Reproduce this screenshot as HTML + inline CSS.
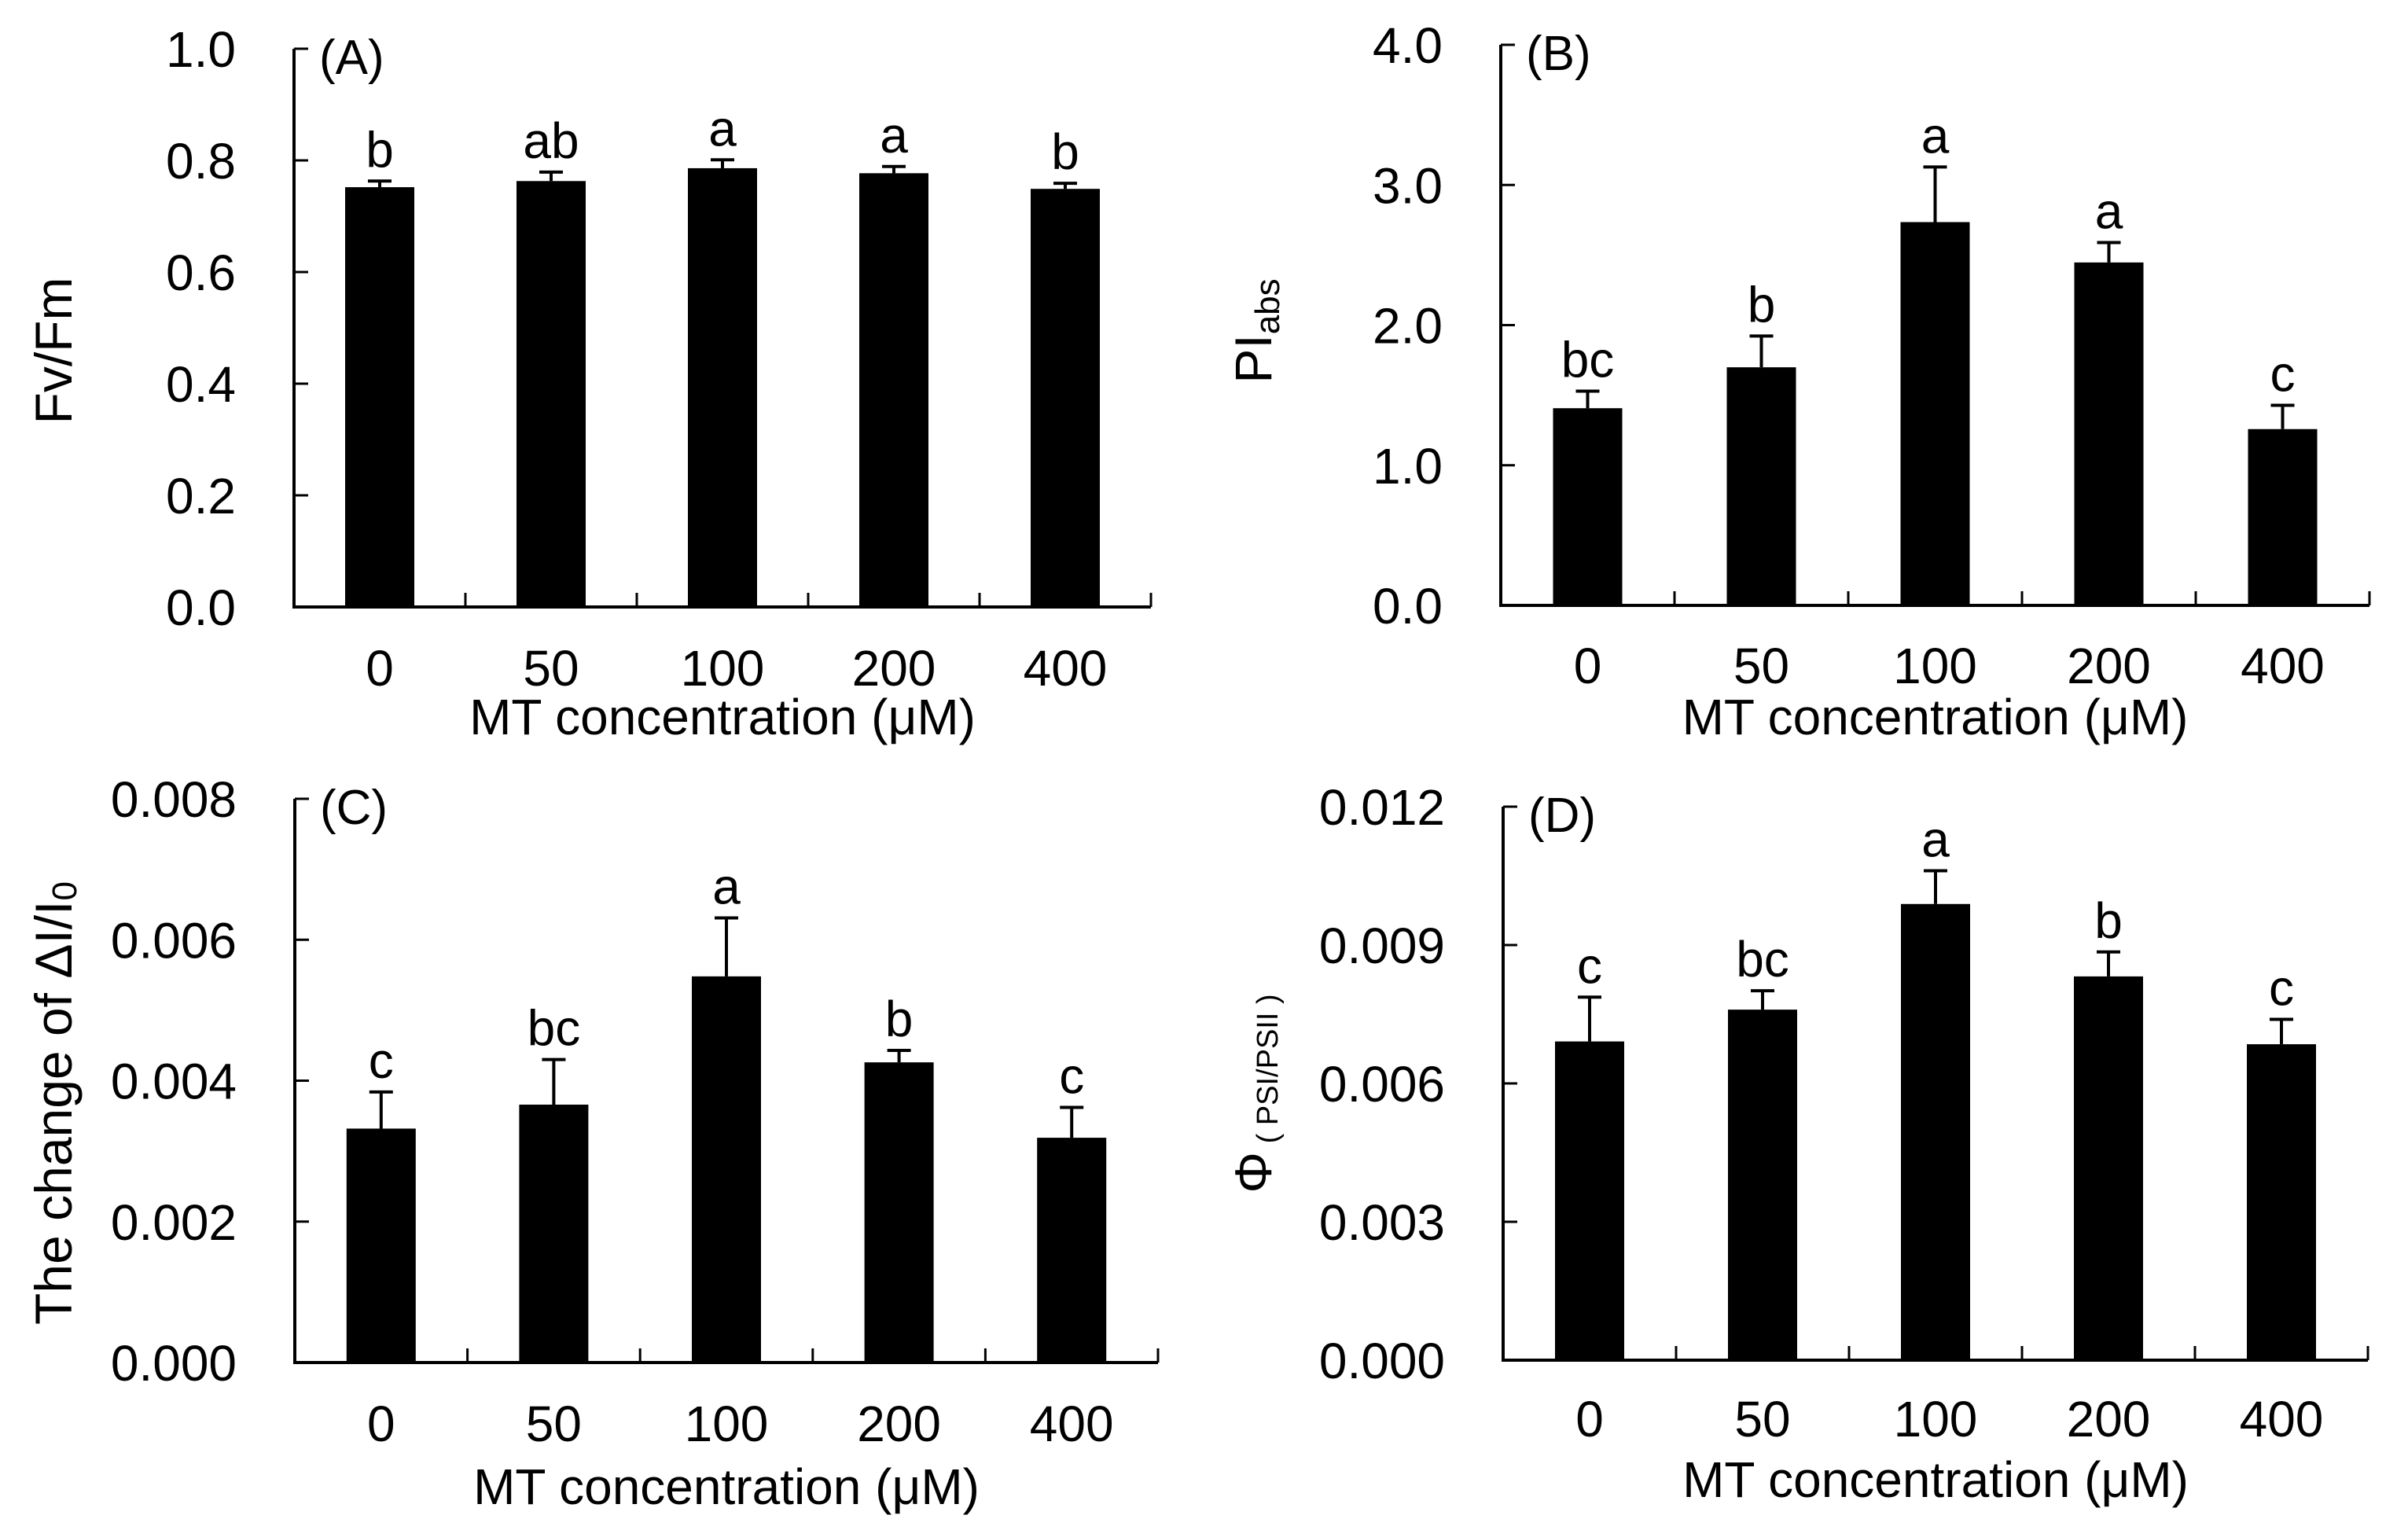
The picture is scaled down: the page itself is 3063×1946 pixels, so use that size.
<!DOCTYPE html>
<html><head><meta charset="utf-8"><style>
html,body{margin:0;padding:0;background:#fff;}
svg{display:block;font-family:"Liberation Sans",Arial,sans-serif;}
</style></head><body>
<svg id="chart" width="3063" height="1946" viewBox="0 0 3063 1946" xmlns="http://www.w3.org/2000/svg"></svg>
<script>
const categories = ["0","50","100","200","400"];
const xAxisTitle = "MT concentration (μM)";
const valuesA = [0.752, 0.763, 0.786, 0.777, 0.749];
const errorsA = [0.011, 0.016, 0.015, 0.012, 0.010];
const lettersA = ["b","ab","a","a","b"];
const ticksA = [0, 0.2, 0.4, 0.6, 0.8, 1.0];
const tickLabelsA = ["0.0","0.2","0.4","0.6","0.8","1.0"];
const valuesB = [1.407, 1.699, 2.735, 2.447, 1.258];
const errorsB = [0.122, 0.223, 0.393, 0.142, 0.170];
const lettersB = ["bc","b","a","a","c"];
const ticksB = [0, 1, 2, 3, 4];
const tickLabelsB = ["0.0","1.0","2.0","3.0","4.0"];
const valuesC = [0.00332, 0.00366, 0.00548, 0.00426, 0.00319];
const errorsC = [0.00052, 0.00064, 0.00083, 0.00017, 0.00043];
const lettersC = ["c","bc","a","b","c"];
const ticksC = [0, 0.002, 0.004, 0.006, 0.008];
const tickLabelsC = ["0.000","0.002","0.004","0.006","0.008"];
const valuesD = [0.00691, 0.00760, 0.00989, 0.00832, 0.00685];
const errorsD = [0.00096, 0.00041, 0.00072, 0.00053, 0.00054];
const lettersD = ["c","bc","a","b","c"];
const ticksD = [0, 0.003, 0.006, 0.009, 0.012];
const tickLabelsD = ["0.000","0.003","0.006","0.009","0.012"];

const svg = document.getElementById('chart');
const NS = "http://www.w3.org/2000/svg";
function mk(tag, attrs, parent){
  const e = document.createElementNS(NS, tag);
  for (const k in attrs) e.setAttribute(k, attrs[k]);
  (parent||svg).appendChild(e);
  return e;
}

function panel(p){
  const g = mk('g', {});
  
  
  const x0 = p.x0, x1 = p.x1, y0 = p.y0, yTop = p.yTop;
  const maxV = p.ticks[p.ticks.length-1];
  const yScale = v => y0 - (v / maxV) * (y0 - yTop);
  const bandW = (x1 - x0) / categories.length;
  const xCenter = i => x0 + bandW * (i + 0.5);
  const barW = 88;
  p.values.forEach((v, i) => {
    const cx = xCenter(i);
    const r = mk('rect', {x: cx - barW/2, y: yScale(v), width: barW, height: y0 - yScale(v), fill:'#000'}, g);
    
    
    const ye = yScale(v + p.errors[i]);
    const eb = mk('path', {d:`M${cx} ${yScale(v)} V${ye} M${cx-15} ${ye} H${cx+15}`, stroke:'#000', 'stroke-width':4, fill:'none'}, g);
    
    
    const lt = mk('text', {x: cx, y: ye - 18, 'font-size': 64, 'text-anchor':'middle', fill:'#000'}, g);
    lt.textContent = p.letters[i];
    
    
    const tl = mk('text', {x: cx, y: p.xLabelY, 'font-size': 64, 'text-anchor':'middle', fill:'#000'}, g);
    tl.textContent = categories[i];
    
    
  });
  const ax = mk('path', {d:`M${x0} ${yTop} V${y0} H${x1}`, stroke:'#000', 'stroke-width':4, fill:'none'}, g);
  
  
  for (let i = 1; i <= categories.length; i++){
    const xt = x0 + bandW * i;
    const t = mk('line', {x1: xt, x2: xt, y1: y0, y2: y0 - 18, stroke:'#000', 'stroke-width':3}, g);
    
    
  }
  p.ticks.forEach((tv, i) => {
    const yt = yScale(tv);
    if (i > 0){
      const t = mk('line', {x1: x0, x2: x0 + 18, y1: yt, y2: yt, stroke:'#000', 'stroke-width':3}, g);
      
      
    }
    const tl = mk('text', {x: x0 - 74, y: yt + 23, 'font-size': 64, 'text-anchor':'end', fill:'#000'}, g);
    tl.textContent = p.tickLabels[i];
    
    
  });
  const pl = mk('text', {x: x0 + 32, y: yTop + 32, 'font-size': 62, fill:'#000'}, g);
  pl.textContent = '(' + p.id.toUpperCase() + ')';
  
  
  const xt = mk('text', {x: (x0 + x1)/2, y: p.titleY, 'font-size': 64, 'text-anchor':'middle', fill:'#000'}, g);
  xt.textContent = xAxisTitle;
  
  
  const yt = mk('text', {x: 0, y: 0, 'font-size': 66, 'text-anchor':'middle', fill:'#000', transform:`translate(${p.yTitleX},${p.yTitleY}) rotate(-90)`}, g);
  yt.innerHTML = p.yTitle;
  
  
}

panel({id:'a', x0:374, x1:1464, y0:772, yTop:62, values:valuesA, errors:errorsA, letters:lettersA, ticks:ticksA, tickLabels:tickLabelsA, xLabelY:872, titleY:934, yTitleX:91, yTitleY:446, yTitle:'Fv/Fm'});
panel({id:'b', x0:1909, x1:3014, y0:770, yTop:57, values:valuesB, errors:errorsB, letters:lettersB, ticks:ticksB, tickLabels:tickLabelsB, xLabelY:869, titleY:934, yTitleX:1617, yTitleY:421, yTitle:'PI<tspan font-size="44" dy="10">abs</tspan>'});
panel({id:'c', x0:375, x1:1473, y0:1733, yTop:1016, values:valuesC, errors:errorsC, letters:lettersC, ticks:ticksC, tickLabels:tickLabelsC, xLabelY:1833, titleY:1913, yTitleX:91, yTitleY:1403, yTitle:'The change of ΔI/I<tspan font-size="44" dy="6">0</tspan>'});
panel({id:'d', x0:1912, x1:3012, y0:1730, yTop:1026, values:valuesD, errors:errorsD, letters:lettersD, ticks:ticksD, tickLabels:tickLabelsD, xLabelY:1827, titleY:1904, yTitleX:1617, yTitleY:1391, yTitle:'Φ<tspan font-size="38" dy="8" xml:space="preserve"> ( PSI/PSII )</tspan>'});
</script>
</body></html>
